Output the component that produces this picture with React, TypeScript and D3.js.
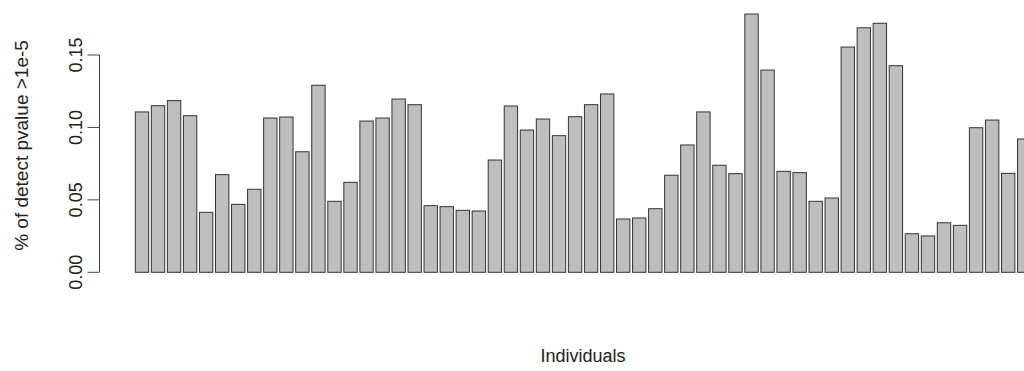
import React from "react";
import * as d3 from "d3";

const individuals: string[] = Array.from({ length: 56 }, (_, i) => `${i + 1}`);
const detectPct: number[] = [
  0.1107, 0.115, 0.1185, 0.1081, 0.0414, 0.0674, 0.0469, 0.0573, 0.1065, 0.1072,
  0.0832, 0.1291, 0.049, 0.0621, 0.1044, 0.1065, 0.1196, 0.1157, 0.046, 0.0453,
  0.0428, 0.0423, 0.0775, 0.1148, 0.0982, 0.1058, 0.0943, 0.1074, 0.1157, 0.1231,
  0.0368, 0.0375, 0.0439, 0.067, 0.0879, 0.1107, 0.0739, 0.0681, 0.1783, 0.1396,
  0.0697, 0.0688, 0.049, 0.0513, 0.1555, 0.1688, 0.1719, 0.1426, 0.0266, 0.0251,
  0.0342, 0.0324, 0.0998, 0.1051, 0.0683, 0.092,
];
const yTicks: number[] = [0, 0.05, 0.1, 0.15];
const yTickLabels: string[] = ["0.00", "0.05", "0.10", "0.15"];
const yTitle = "% of detect pvalue >1e-5";
const xTitle = "Individuals";

const W = 1024;
const H = 371;
const FONT = "'Liberation Sans', Arial, Helvetica, sans-serif";

export default function App() {
  const x = d3
    .scaleBand<string>()
    .domain(individuals)
    .range([135.3, 1030.9])
    .paddingInner(0.2 / 1.2)
    .paddingOuter(0);
  const y = d3.scaleLinear().domain([0, 0.15]).range([272.3, 55]);
  const axisX = 99.5;
  const plotCenterX = 583;
  const yTitleCenter = 145.5;

  return (
    <svg
      width={W}
      height={H}
      style={{ position: "absolute", left: 0, top: 0, background: "#fff" }}
      fontFamily={FONT}
    >
      <rect x={0} y={0} width={W} height={H} fill="#fff" />
      {detectPct.map((v, i) => {
        const x0 = x(individuals[i]) as number;
        return (
          <rect
            key={i}
            x={x0}
            y={y(v)}
            width={x.bandwidth()}
            height={y(0) - y(v)}
            fill="#bebebe"
            stroke="#333"
            strokeWidth={1}
          />
        );
      })}
      <line x1={axisX} x2={axisX} y1={y(0)} y2={y(0.15)} stroke="#444" strokeWidth={1} />
      {yTicks.map((t, i) => (
        <g key={t}>
          <line x1={axisX - 12} x2={axisX} y1={y(t)} y2={y(t)} stroke="#444" strokeWidth={1} />
          <text
            transform={`translate(82,${y(t)}) rotate(-90)`}
            textAnchor="middle"
            fontSize={18}
            fill="#222"
          >
            {yTickLabels[i]}
          </text>
        </g>
      ))}
      <text
        transform={`translate(28,${yTitleCenter}) rotate(-90)`}
        textAnchor="middle"
        fontSize={19}
        fill="#222"
      >
        {yTitle}
      </text>
      <text x={plotCenterX} y={362} textAnchor="middle" fontSize={18} fill="#222">
        {xTitle}
      </text>
    </svg>
  );
}
